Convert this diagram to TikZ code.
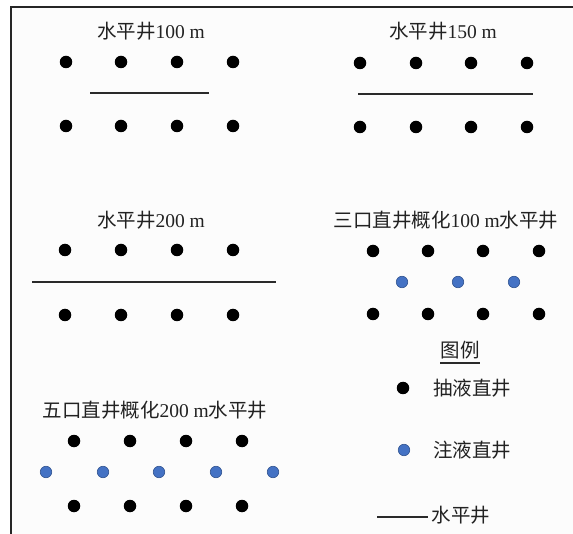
\documentclass[tikz,border=0pt]{standalone}
\usepackage{fontspec}
\setmainfont{Liberation Serif}
\newfontfamily\cjk{Noto Sans CJK SC}
\definecolor{injblue}{HTML}{4472C4}
\definecolor{injedge}{HTML}{2F528F}
\definecolor{hwgray}{HTML}{2A2A2A}
\definecolor{txt}{HTML}{222222}
\definecolor{bg}{HTML}{FCFCFC}
\begin{document}
\begin{tikzpicture}[x=1pt,y=-1pt,
  prod/.style={circle, fill=black, minimum size=12.5pt, inner sep=0pt},
  inj/.style={circle, fill=injblue, draw=injedge, line width=0.6pt, minimum size=11.5pt, inner sep=0pt},
  hw/.style={line width=2pt, draw=hwgray},
  ttl/.style={font=\fontsize{19.5}{20}\selectfont, text=txt, inner sep=0pt},
  frame/.style={line width=1.5pt, draw=black!85}]
\useasboundingbox (0,0) rectangle (573,534);
\fill[bg] (11,7) rectangle (573,534);
\draw[frame] (11,534) -- (11,7) -- (573,7);

% panel 1: horizontal well 100 m
\node[ttl] (t1) at (151,31) {{\cjk 水平井}100 m};
\foreach \i/\x in {1/66,2/121,3/177,4/233}{
  \node[prod] (a\i) at (\x,62) {};
  \node[prod] (b\i) at (\x,126) {};
}
\coordinate (h1s) at (90,93); \coordinate (h1e) at (209,93);
\draw[hw] (h1s) -- (h1e);

% panel 2: horizontal well 150 m
\node[ttl] (t2) at (443,31) {{\cjk 水平井}150 m};
\foreach \i/\x in {1/360,2/416,3/471,4/527}{
  \node[prod] (c\i) at (\x,63) {};
  \node[prod] (d\i) at (\x,127) {};
}
\coordinate (h2s) at (358,94); \coordinate (h2e) at (533,94);
\draw[hw] (h2s) -- (h2e);

% panel 3: horizontal well 200 m
\node[ttl] (t3) at (151,220) {{\cjk 水平井}200 m};
\foreach \i/\x in {1/65,2/121,3/177,4/233}{
  \node[prod] (e\i) at (\x,250) {};
  \node[prod] (f\i) at (\x,315) {};
}
\coordinate (h3s) at (32,282); \coordinate (h3e) at (276,282);
\draw[hw] (h3s) -- (h3e);

% panel 4: three vertical wells
\node[ttl] (t4) at (446,220) {{\cjk 三口直井概化}100 m{\cjk 水平井}};
\foreach \i/\x in {1/373,2/428,3/483,4/539}{
  \node[prod] (g\i) at (\x,251) {};
  \node[prod] (k\i) at (\x,314) {};
}
\foreach \i/\x in {1/402,2/458,3/514}{
  \node[inj] (m\i) at (\x,282) {};
}

% panel 5: five vertical wells
\node[ttl] (t5) at (155,410) {{\cjk 五口直井概化}200 m{\cjk 水平井}};
\foreach \i/\x in {1/74,2/130,3/186,4/242}{
  \node[prod] (p\i) at (\x,441) {};
  \node[prod] (q\i) at (\x,506) {};
}
\foreach \i/\x in {1/46,2/103,3/159,4/216,5/273}{
  \node[inj] (r\i) at (\x,472) {};
}

% legend
\node[ttl] (leg) at (460,350) {\cjk 图例};
\draw[line width=1.5pt, draw=hwgray] ([yshift=-4pt]leg.south west) -- ([yshift=-4pt]leg.south east);
\node[prod] (lp) at (403,388) {};
\node[ttl] (lpt) at (472,388) {\cjk 抽液直井};
\node[inj] (li) at (404,450) {};
\node[ttl] (lit) at (472,450) {\cjk 注液直井};
\coordinate (lhs) at (377,517); \coordinate (lhe) at (428,517);
\draw[hw] (lhs) -- (lhe);
\node[ttl] (lht) at (461,515) {\cjk 水平井};
\end{tikzpicture}
\end{document}
